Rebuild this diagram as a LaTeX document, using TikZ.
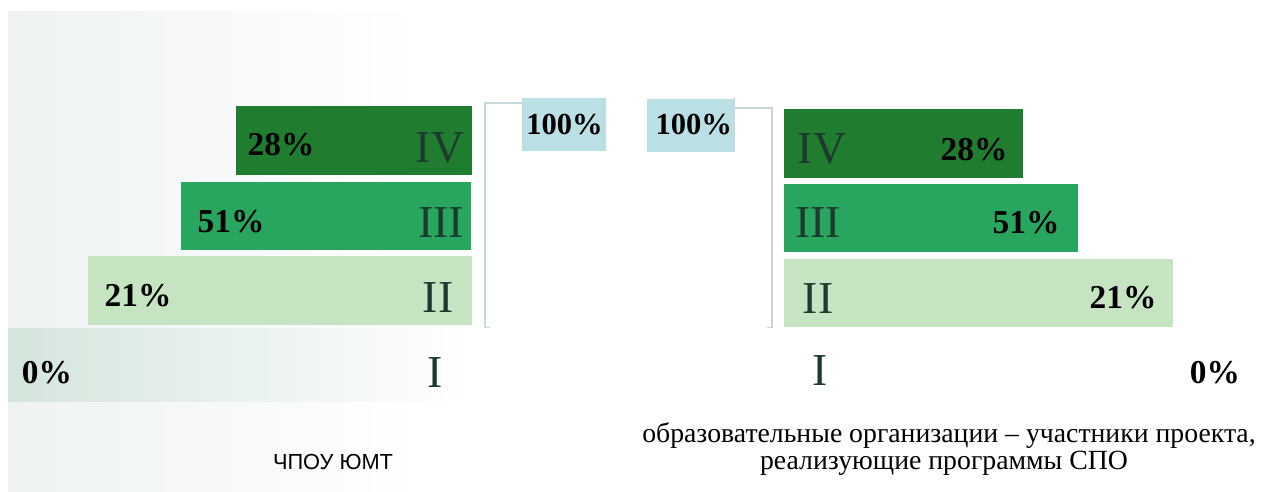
\documentclass[tikz,border=0pt]{standalone}
\usepackage{fontspec}
\setmainfont{Liberation Serif}
\newfontfamily\capsans{Liberation Sans}
\usetikzlibrary{positioning, fit, calc}
\definecolor{stageiv}{RGB}{32,125,48}
\definecolor{stageiii}{RGB}{40,166,96}
\definecolor{stageii}{RGB}{198,228,194}
\definecolor{stagei}{RGB}{212,229,220}
\definecolor{totalcyan}{RGB}{186,224,230}
\definecolor{bracketgray}{RGB}{198,216,220}
\definecolor{numeralgreen}{RGB}{28,58,46}
\definecolor{papertint}{RGB}{238,242,243}

\begin{document}
\begin{tikzpicture}[x=0.02cm, y=-0.02cm,
    bar/.style={inner sep=0pt, draw=none},
    pct/.style={anchor=base, inner sep=0pt, font=\fontsize{19}{22}\selectfont\bfseries},
    numeral/.style={anchor=base, inner sep=0pt, text=numeralgreen, font=\fontsize{26}{30}\selectfont},
    total/.style={fill=totalcyan, inner sep=0pt, minimum height=1.06cm, font=\fontsize{17.4}{20}\selectfont\bfseries},
    bracket/.style={draw=bracketgray, line width=0.9pt}]
    \useasboundingbox (0,0) rectangle (1267,491);
    % Paper
    \fill[left color=papertint, right color=white] (8,11) rectangle (420,491);

    % Left stack
    \node[bar, fit={(8,328) (470,401)}, left color=stagei, right color=white] (l1) {};
    \node[bar, fill=stageii, fit={(88,256) (472,325)}] (l2) {};
    \node[bar, fill=stageiii, fit={(181,182) (471,250)}] (l3) {};
    \node[bar, fill=stageiv, fit={(236,106) (472,175)}] (l4) {};
    \node[pct] (l1p) at (47,383) {0\%};
    \node[pct] (l2p) at (138,306) {21\%};
    \node[pct] (l3p) at (231,232) {51\%};
    \node[pct] (l4p) at (281,155) {28\%};
    \node[numeral] (l1n) at (435,387) {I};
    \node[numeral] (l2n) at (438,312) {II};
    \node[numeral] (l3n) at (441,237) {III};
    \node[numeral] (l4n) at (440,162) {IV};

    % Left total
    \node[total, minimum width=1.66cm] (lbox) at (564.5,124.5) {100\%};
    \coordinate (lbrtop) at (485,103);
    \draw[bracket] (lbox.north west) -- (lbox.south west);
    \draw[bracket] (lbox.west |- lbrtop) -- (lbrtop) -- (lbrtop |- l1.north) -- ++(5,0);

    % Right total
    \node[total, minimum width=1.74cm] (rbox) at (690,125) {\hspace*{0.15cm}100\%};
    \coordinate (rbrtop) at (772,108);
    \draw[bracket] (rbox.north east) -- (rbox.south east);
    \draw[bracket] (rbox.east |- rbrtop) -- (rbrtop) -- (rbrtop |- l1.north) -- ++(-5,0);

    % Right stack
    \node[bar, fill=stageii, fit={(784,259) (1173,327)}] (r2) {};
    \node[bar, fill=stageiii, fit={(784,184) (1078,252)}] (r3) {};
    \node[bar, fill=stageiv, fit={(784,109) (1023,178)}] (r4) {};
    \node[numeral] (r1n) at (820,385) {I};
    \node[numeral] (r2n) at (818,313) {II};
    \node[numeral] (r3n) at (818,237) {III};
    \node[numeral] (r4n) at (822,163) {IV};
    \node[pct] (r1p) at (1215,383) {0\%};
    \node[pct] (r2p) at (1123,308) {21\%};
    \node[pct] (r3p) at (1026,233) {51\%};
    \node[pct] (r4p) at (974,160) {28\%};

    % Captions
    \node[anchor=base, inner sep=0pt, font=\capsans\fontsize{12.4}{15}\selectfont] (lcap) at (333,469) {ЧПОУ ЮМТ};
    \node[anchor=base, inner sep=0pt, font=\fontsize{15.8}{18}\selectfont] (rcap1) at (949,442) {образовательные организации – участники проекта,};
    \node[anchor=base, inner sep=0pt, font=\fontsize{15.8}{18}\selectfont] (rcap2) at (944,469) {реализующие программы СПО};
\end{tikzpicture}
\end{document}
